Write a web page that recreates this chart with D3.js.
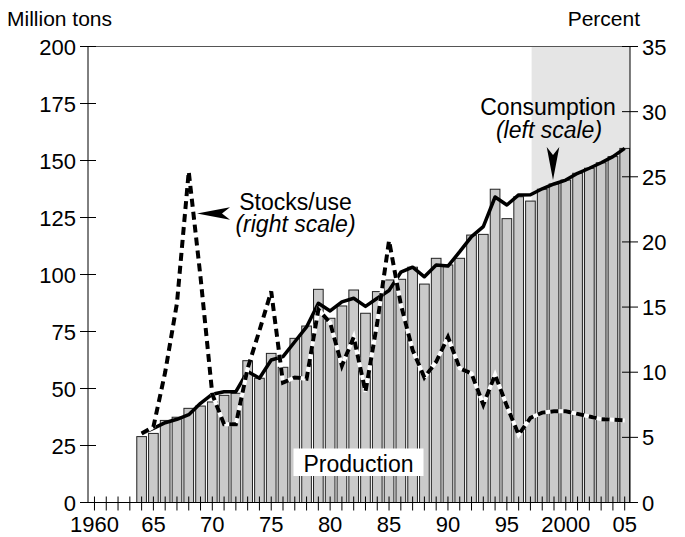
<!DOCTYPE html>
<html lang="en">
<head>
    <meta charset="UTF-8">
    <title>Production and consumption</title>
    <script src="https://d3js.org/d3.v7.min.js"></script>
    <style>
        body { margin: 0; background: #fff; overflow: hidden; }
        svg { display: block; }
        text { font-family: 'Liberation Sans', Arial, sans-serif; fill: #000; }
    </style>
</head>
<body>
<script>
    const width  = 685;
    const height = 537;

    // calendar years on the category axis
    const years = d3.range(1964, 2006);

    // million tons (left scale)
    const production = [28.9, 30.3, 36, 37.4, 41.3, 42.3, 44.1, 47, 47.9, 62.2,
        54.5, 65.4, 59.3, 72, 77.4, 93.5, 80.8, 86.2, 93.2, 83,
        92.5, 97.6, 97.9, 103.2, 95.8, 107.1, 104.2, 107.1, 117.3, 117.6,
        137.4, 124.5, 134.1, 132.2, 137.4, 139.7, 141.4, 144.4, 146.6, 149,
        151.7, 155.3];
    const consumption = [30.3, 32.5, 35, 36.5, 38.5, 43.5, 47.5, 48.6, 48.6, 57.5,
        54.5, 62.5, 64, 70.5, 77, 87.4, 84, 88, 89.6, 86,
        89.6, 93, 101, 103.2, 99, 104.2, 103.7, 110, 116.6, 121,
        134, 130.5, 134.9, 135, 137.6, 139.7, 141.4, 144.4, 146.6, 149,
        151.7, 155.3];
    // percent (right scale)
    const stocksUse = [5.3, 5.8, 10.0, 15.3, 25.4, 17.3, 8.3, 6.0, 6.0, 10.3,
        13.2, 16.2, 9.2, 9.6, 9.5, 14.8, 13.8, 10.5, 12.7, 8.5,
        13.8, 20.1, 15.2, 11.7, 9.6, 10.8, 12.7, 10.3, 9.9, 7.5,
        9.8, 7.4, 5.2, 6.5, 6.9, 7.0, 7.0, 6.8, 6.6, 6.4,
        6.35, 6.3];

    // projection period is shaded
    const shadeStart = 1997.1;

    const leftTicks  = [0, 25, 50, 75, 100, 125, 150, 175, 200];
    const rightTicks = [0, 5, 10, 15, 20, 25, 30, 35];
    const xLabelYears = [1960, 1965, 1970, 1975, 1980, 1985, 1990, 1995, 2000, 2005];
    const xLabels     = ['1960', '65', '70', '75', '80', '85', '90', '95', '2000', '05'];

    const plot = {left: 88, right: 630, top: 46.5, bottom: 502.5};

    const x = d3.scaleLinear()
            .domain([1959.45, 2005.45])
            .range([plot.left, plot.right]);
    const yLeft = d3.scaleLinear()
            .domain([0, 200])
            .range([plot.bottom, plot.top]);
    const yRight = d3.scaleLinear()
            .domain([0, 35])
            .range([plot.bottom, plot.top]);

    const step = x(1961) - x(1960);
    const barWidth = step * 0.82;

    const svg = d3.select("body")
            .append("svg")
            .attr("width", width)
            .attr("height", height);

    // shaded projection
    svg.append("rect")
        .attr("x", x(shadeStart))
        .attr("y", plot.top)
        .attr("width", plot.right - x(shadeStart))
        .attr("height", plot.bottom - plot.top)
        .style("fill", "#e5e5e5");

    // production bars
    svg.append("g")
        .selectAll("rect")
        .data(production)
        .enter()
        .append("rect")
            .attr("x", (d, i) => x(years[i]) - barWidth / 2)
            .attr("y", d => yLeft(d))
            .attr("width", barWidth)
            .attr("height", d => yLeft(0) - yLeft(d))
            .style("fill", "#cacaca")
            .style("stroke", "#222")
            .style("stroke-width", 1);

    // consumption line
    const consLine = d3.line()
            .x((d, i) => x(years[i]))
            .y(d => yLeft(d));

    svg.append("path")
        .datum(consumption)
        .attr("d", consLine)
        .style("fill", "none")
        .style("stroke", "#000")
        .style("stroke-width", 3.5)
        .style("stroke-linejoin", "round");

    // stocks/use: black dashes over a white line
    const stockLine = d3.line()
            .x((d, i) => x(years[i]))
            .y(d => yRight(d));

    svg.append("path")
        .datum(stocksUse)
        .attr("d", stockLine)
        .style("fill", "none")
        .style("stroke", "#fff")
        .style("stroke-width", 4);

    svg.append("path")
        .datum(stocksUse)
        .attr("d", stockLine)
        .style("fill", "none")
        .style("stroke", "#000")
        .style("stroke-width", 4)
        .style("stroke-dasharray", "8,5");

    // frame: top line, baseline, two axes
    const axes = svg.append("g").style("stroke", "#000").style("stroke-width", 1);
    axes.append("line")
        .attr("x1", plot.left - 8).attr("x2", plot.right + 8)
        .attr("y1", plot.top).attr("y2", plot.top)
        .style("stroke", "#555");
    axes.append("line")
        .attr("x1", plot.left - 8).attr("x2", plot.right + 8)
        .attr("y1", plot.bottom).attr("y2", plot.bottom);
    axes.append("line")
        .attr("x1", plot.left).attr("x2", plot.left)
        .attr("y1", plot.top).attr("y2", plot.bottom);
    axes.append("line")
        .attr("x1", plot.right).attr("x2", plot.right)
        .attr("y1", plot.top).attr("y2", plot.bottom);

    axes.selectAll(".lt")
        .data(leftTicks)
        .enter().append("line").attr("class", "lt")
        .attr("x1", plot.left - 8).attr("x2", plot.left + 8)
        .attr("y1", d => yLeft(d)).attr("y2", d => yLeft(d));

    axes.selectAll(".rt")
        .data(rightTicks)
        .enter().append("line").attr("class", "rt")
        .attr("x1", plot.right - 8).attr("x2", plot.right + 8)
        .attr("y1", d => yRight(d)).attr("y2", d => yRight(d));

    axes.selectAll(".xt")
        .data(d3.range(1960, 2006))
        .enter().append("line").attr("class", "xt")
        .attr("x1", d => x(d)).attr("x2", d => x(d))
        .attr("y1", plot.bottom - 6).attr("y2", plot.bottom + 8);

    svg.selectAll(".ll")
        .data(leftTicks)
        .enter().append("text").attr("class", "ll")
        .attr("x", plot.left - 12)
        .attr("y", d => yLeft(d) + 8)
        .attr("text-anchor", "end")
        .style("font-size", "22px")
        .text(d => d);

    svg.selectAll(".rl")
        .data(rightTicks)
        .enter().append("text").attr("class", "rl")
        .attr("x", plot.right + 12)
        .attr("y", d => yRight(d) + 8)
        .style("font-size", "22px")
        .text(d => d);

    svg.selectAll(".xl")
        .data(xLabelYears)
        .enter().append("text").attr("class", "xl")
        .attr("x", d => x(d))
        .attr("y", 532)
        .attr("text-anchor", "middle")
        .style("font-size", "22px")
        .text((d, i) => xLabels[i]);

    // unit titles
    svg.append("text")
        .attr("x", 7).attr("y", 26)
        .style("font-size", "21px")
        .text("Million tons");
    svg.append("text")
        .attr("x", 640).attr("y", 26)
        .attr("text-anchor", "end")
        .style("font-size", "21px")
        .text("Percent");

    // annotations
    const notes = svg.append("g").style("font-size", "23px").attr("text-anchor", "middle");
    notes.append("text").attr("x", 295.5).attr("y", 210).text("Stocks/use");
    notes.append("text").attr("x", 295.5).attr("y", 232)
        .style("font-style", "italic").text("(right scale)");
    notes.append("text").attr("x", 548).attr("y", 115).text("Consumption");
    notes.append("text").attr("x", 549).attr("y", 138)
        .style("font-style", "italic").text("(left scale)");

    // arrow heads
    svg.append("path")
        .attr("d", "M197,213.5 L230,207.2 L222,213.5 L230,219.8 Z")
        .style("fill", "#000");
    svg.append("path")
        .attr("d", "M553,180 L546.7,147 L553,155 L559.3,147 Z")
        .style("fill", "#000");

    // production label on white box
    svg.append("rect")
        .attr("x", 293.5).attr("y", 448.5)
        .attr("width", 130).attr("height", 27.5)
        .style("fill", "#fff");
    svg.append("text")
        .attr("x", 358.5).attr("y", 472)
        .attr("text-anchor", "middle")
        .style("font-size", "23px")
        .text("Production");
</script>
</body>
</html>
